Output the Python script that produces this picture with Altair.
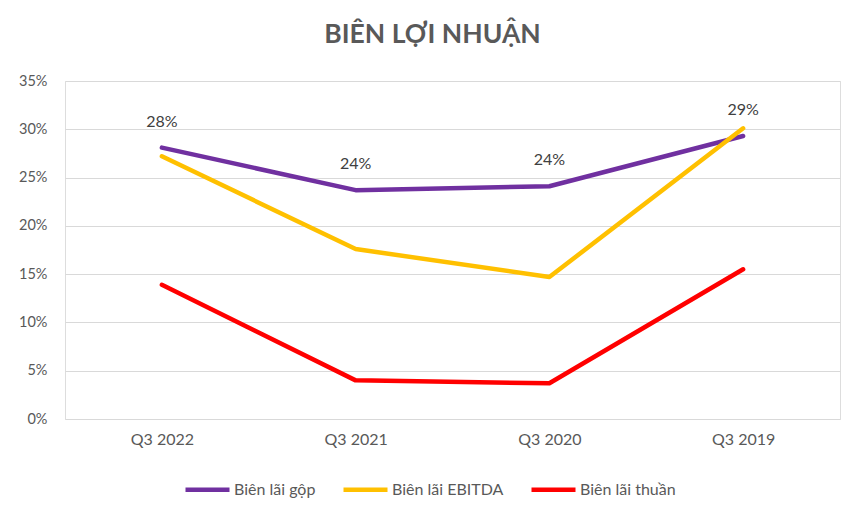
import altair as alt
import pandas as pd

categories = ["Q3 2022", "Q3 2021", "Q3 2020", "Q3 2019"]
series_names = ["Biên lãi gộp", "Biên lãi EBITDA", "Biên lãi thuần"]
gross = [28.1, 23.7, 24.1, 29.3]
ebitda = [27.2, 17.6, 14.7, 30.1]
net = [13.9, 4.0, 3.7, 15.5]
colors = ["#7030A0", "#FFC000", "#FF0000"]
y_ticks = [0, 0.05, 0.10, 0.15, 0.20, 0.25, 0.30, 0.35]

rows = []
for name, vals in zip(series_names, [gross, ebitda, net]):
    for c, v in zip(categories, vals):
        rows.append({"cat": c, "series": name, "value": v / 100})
df = pd.DataFrame(rows)

FONT = "Lato"

x = alt.X("cat:N", sort=categories, title=None,
          axis=alt.Axis(domain=False, ticks=False, labelPadding=12, labelAngle=0,
                        labelFontSize=16, labelColor="#595959", labelFont=FONT))
y = alt.Y("value:Q", title=None,
          scale=alt.Scale(domain=[0, 0.35], nice=False),
          axis=alt.Axis(values=y_ticks, format=".0%", domain=False, ticks=False,
                        labelPadding=18, labelFontSize=14.5, labelColor="#595959",
                        labelFont=FONT, gridColor="#d9d9d9", gridWidth=1))

lines = alt.Chart(df).mark_line(strokeWidth=4.5, strokeCap="round", strokeJoin="round").encode(
    x=x, y=y,
    color=alt.Color("series:N", sort=series_names,
                    scale=alt.Scale(domain=series_names, range=colors),
                    legend=alt.Legend(orient="none", direction="horizontal", title=None,
                                      legendX=118, legendY=384,
                                      symbolType="stroke", symbolSize=1936,
                                      symbolStrokeWidth=4.5, labelFontSize=16,
                                      labelColor="#595959", labelFont=FONT,
                                      labelOffset=2, columnPadding=18)),
    detail="series:N",
)

labels = alt.Chart(df).transform_filter(
    alt.datum.series == series_names[0]
).mark_text(dy=-26, fontSize=16, color="#404040", font=FONT).encode(
    x=alt.X("cat:N", sort=categories),
    y=alt.Y("value:Q"),
    text=alt.Text("value:Q", format=".0%"),
)

chart = alt.layer(lines, labels).properties(
    width=775, height=338,
    title=alt.TitleParams("BIÊN LỢI NHUẬN", fontSize=26.5, fontWeight="bold",
                          color="#595959", font=FONT, anchor="middle", offset=25, dx=-20),
    autosize=alt.AutoSizeParams(type="none"),
    padding={"left": 57, "top": 73, "right": 17, "bottom": 90},
).configure_view(stroke=None).configure(background="white")

chart.save("out.html", embed_options={"renderer": "svg", "actions": False})
